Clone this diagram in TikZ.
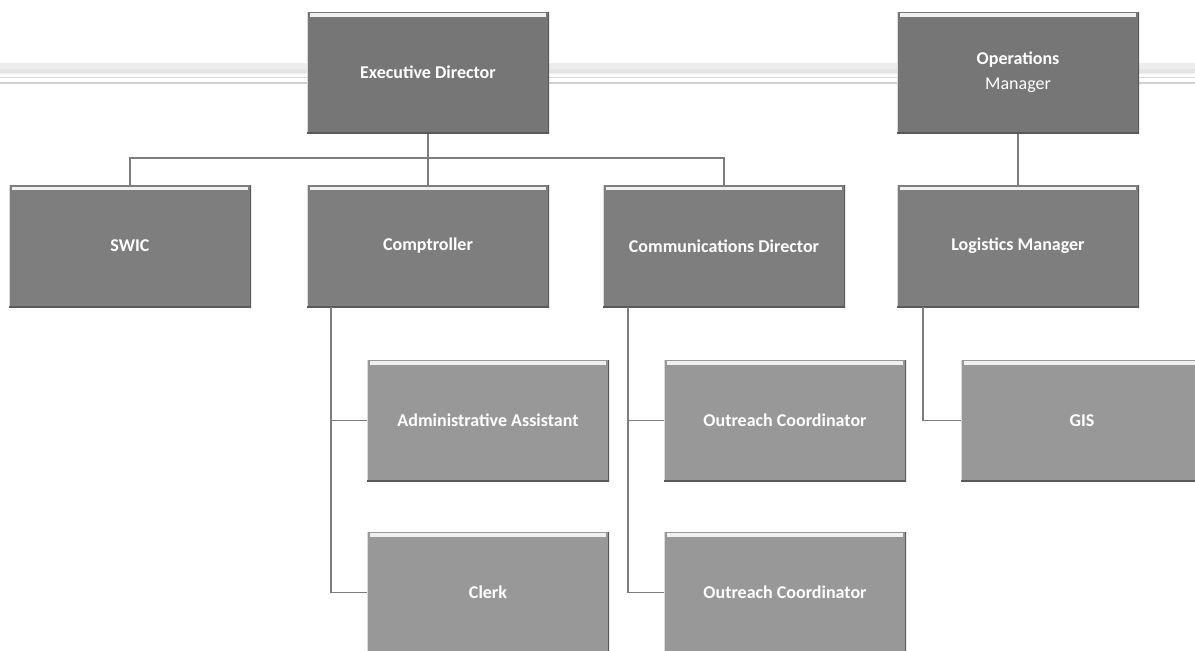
\documentclass[tikz,border=0pt]{standalone}
\usepackage{fontspec}
\setmainfont{Carlito}
\begin{document}
\begin{tikzpicture}[x=0.75pt,y=-0.75pt,
  box/.style={rectangle, inner sep=0pt, minimum width=181.5pt, minimum height=91.5pt,
    text=white, font=\bfseries\fontsize{13.5}{15}\selectfont, align=center,
    path picture={
      \draw[white!88!gray, line width=2.4pt]
        ([xshift=2.5pt,yshift=-2.6pt]path picture bounding box.north west) --
        ([xshift=-2.5pt,yshift=-2.6pt]path picture bounding box.north east);
      \draw[white!70!gray, line width=0.8pt]
        ([xshift=0.6pt]path picture bounding box.north west) --
        ([xshift=0.6pt]path picture bounding box.south west);
      \draw[black!65, line width=1.6pt]
        (path picture bounding box.north east) --
        (path picture bounding box.south east) --
        (path picture bounding box.south west);
    }},
  topbox/.style={box, fill=boxdark},
  midbox/.style={box, fill=boxmid},
  lowbox/.style={box, fill=boxlight},
  link/.style={draw=linegray, line width=1.1pt}
]
\definecolor{boxdark}{RGB}{118,118,118}
\definecolor{boxmid}{RGB}{126,126,126}
\definecolor{boxlight}{RGB}{152,152,152}
\definecolor{linegray}{RGB}{125,125,125}
\useasboundingbox (0,0) rectangle (1195,650);
\clip (0,0) rectangle (1195,650);
\fill[white] (0,0) rectangle (1195,650);
% decorative band
\fill[black!7] (0,63) rectangle (1195,74);
\fill[black!10] (0,69) rectangle (1195,73);
\draw[black!14, line width=0.9pt] (0,77.5) -- (1195,77.5);
\draw[black!18, line width=1.8pt] (0,83) -- (1195,83);
% boxes
\node[topbox] (ED) at (428,72.5) {Executive Director};
\node[topbox] (OM) at (1018,72.5) {Operations\\[4pt]{\mdseries Manager}};
\node[midbox] (SWIC) at (130,246) {SWIC};
\node[midbox] (COMP) at (428,246) {Comptroller};
\node[midbox] (COMM) at (724,246) {Communications Director};
\node[midbox] (LOG) at (1018,246) {Logistics Manager};
\node[lowbox] (ADM) at (488,420.5) {Administrative Assistant};
\node[lowbox] (OC1) at (785,420.5) {Outreach Coordinator};
\node[lowbox] (GIS) at (1082,420.5) {GIS};
\node[lowbox] (CLK) at (488,592.5) {Clerk};
\node[lowbox] (OC2) at (785,592.5) {Outreach Coordinator};
% connector helpers
\coordinate (bus) at (0,158);
\coordinate (compv) at (331,0);
\coordinate (commv) at (628,0);
\coordinate (logv) at (923,0);
% connectors
\draw[link] (ED.south) -- (COMP.north);
\draw[link] (SWIC.north) -- (SWIC.north |- bus) -- (COMM.north |- bus) -- (COMM.north);
\draw[link] (OM.south) -- (LOG.north);
\draw[link] (compv |- COMP.south) -- (compv |- CLK.west) -- (CLK.west);
\draw[link] (compv |- ADM.west) -- (ADM.west);
\draw[link] (commv |- COMM.south) -- (commv |- OC2.west) -- (OC2.west);
\draw[link] (commv |- OC1.west) -- (OC1.west);
\draw[link] (logv |- LOG.south) -- (logv |- GIS.west) -- (GIS.west);
\end{tikzpicture}
\end{document}
